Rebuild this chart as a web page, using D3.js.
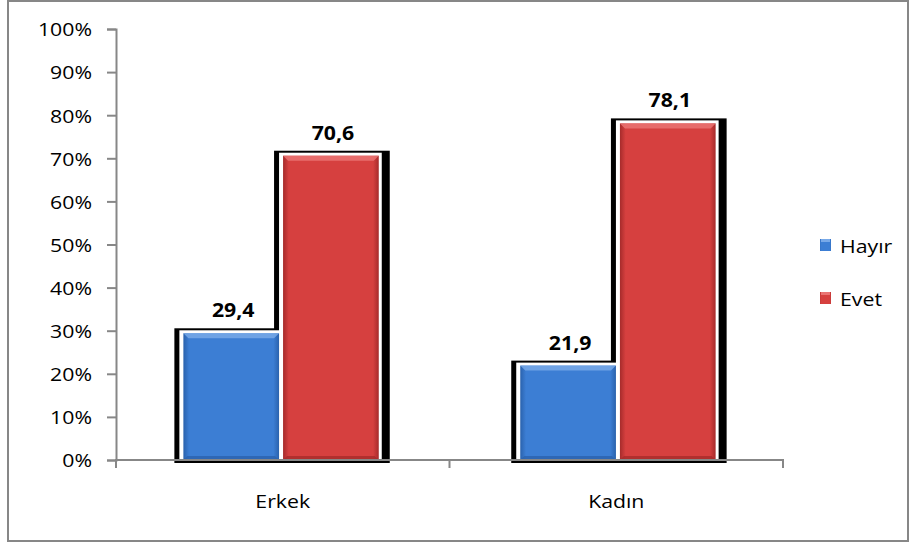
<!DOCTYPE html>
<html>
<head>
<meta charset="utf-8">
<script src="https://cdn.jsdelivr.net/npm/d3@7"></script>
<style>
  html, body { margin: 0; padding: 0; background: #ffffff; }
  svg { display: block; }
  text { font-family: "Open Sans", "DejaVu Sans", sans-serif; fill: #000; }
</style>
</head>
<body>
<svg id="chart" width="911" height="546"></svg>
<script>
// ---- data ----
const categories = ["Erkek", "Kadın"];
const seriesNames = ["Hayır", "Evet"];
const hayirValues = [29.4, 21.9];
const evetValues = [70.6, 78.1];
const valueLabels = [["29,4", "21,9"], ["70,6", "78,1"]];
const yTicks = [0, 10, 20, 30, 40, 50, 60, 70, 80, 90, 100];
const yTickLabels = ["0%", "10%", "20%", "30%", "40%", "50%", "60%", "70%", "80%", "90%", "100%"];

const seriesValues = [hayirValues, evetValues];
const colors = [
  { main: "#3c7ed4", edge: "#2a62ad", light: "#78a9e8" },
  { main: "#d6403f", edge: "#a62b2b", light: "#ea7473" }
];
const SX = 1.12; // horizontal text stretch
const FS = "19px";

const svg = d3.select("#chart");
const defs = svg.append("defs");
colors.forEach((c, i) => {
  const g = defs.append("linearGradient").attr("id", "grad" + i)
    .attr("x1", "0").attr("x2", "1").attr("y1", "0").attr("y2", "0");
  g.append("stop").attr("offset", "0").attr("stop-color", c.edge);
  g.append("stop").attr("offset", "0.06").attr("stop-color", c.main);
  g.append("stop").attr("offset", "0.94").attr("stop-color", c.main);
  g.append("stop").attr("offset", "1").attr("stop-color", c.edge);
});

// outer border
svg.append("rect").attr("x", 8).attr("y", 1).attr("width", 900).attr("height", 540)
  .attr("fill", "none").attr("stroke", "#878787").attr("stroke-width", 2);

const y = d3.scaleLinear().domain([0, 100]).range([460, 29]);
const x0 = d3.scaleBand().domain(categories).range([116, 783])
  .paddingInner(0.42).paddingOuter(0.2);
const x1 = d3.scaleBand().domain(seriesNames).range([0, x0.bandwidth()]).paddingInner(0.04);

// flatten bars
const bars = [];
seriesNames.forEach((s, si) => {
  categories.forEach((c, ci) => {
    bars.push({ s, si, c, ci, v: seriesValues[si][ci], label: valueLabels[si][ci] });
  });
});
const bx = d => x0(d.c) + x1(d.s);
const bw = x1.bandwidth();
const base = y(0);

// black frames
svg.append("g").selectAll("rect").data(bars).join("rect")
  .attr("x", d => bx(d) - 9).attr("y", d => y(d.v) - 5)
  .attr("width", bw + 20).attr("height", d => base - y(d.v) + 8)
  .attr("fill", "#000");
// white inner borders
svg.append("g").selectAll("rect").data(bars).join("rect")
  .attr("x", d => bx(d) - 4).attr("y", d => y(d.v) - 3)
  .attr("width", bw + 7).attr("height", d => base - y(d.v) + 3)
  .attr("fill", "#fff");
// bars
svg.append("g").selectAll("rect").data(bars).join("rect")
  .attr("x", d => bx(d)).attr("y", d => y(d.v))
  .attr("width", bw).attr("height", d => base - y(d.v))
  .attr("fill", d => "url(#grad" + d.si + ")");
// top bevel
svg.append("g").selectAll("path").data(bars).join("path")
  .attr("d", d => {
    const xa = bx(d), xb = bx(d) + bw, ya = y(d.v), k = 5;
    return `M${xa},${ya}L${xb},${ya}L${xb - k},${ya + k}L${xa + k},${ya + k}Z`;
  })
  .attr("fill", d => colors[d.si].light).attr("opacity", 0.85);
// bottom bevel
svg.append("g").selectAll("path").data(bars).join("path")
  .attr("d", d => {
    const xa = bx(d), xb = bx(d) + bw, yb = base, k = 4;
    return `M${xa},${yb}L${xb},${yb}L${xb - k},${yb - k}L${xa + k},${yb - k}Z`;
  })
  .attr("fill", d => colors[d.si].edge).attr("opacity", 0.8);

// value labels
svg.append("g").selectAll("g").data(bars).join("g")
  .attr("transform", d => `translate(${bx(d) + bw / 2 + 2},${y(d.v) - 16}) scale(${SX},1)`)
  .append("text").attr("text-anchor", "middle")
  .style("font-size", "19px").style("font-weight", "bold")
  .text(d => d.label);

// y axis
const yAxis = d3.axisLeft(y).tickValues(yTicks)
  .tickFormat((d, i) => yTickLabels[i]).tickSize(9).tickPadding(0);
const yg = svg.append("g").attr("transform", "translate(116,0)").call(yAxis);
yg.select(".domain").attr("stroke", "#878787").attr("stroke-width", 2);
yg.selectAll(".tick line").attr("stroke", "#878787").attr("stroke-width", 2);
yg.selectAll(".tick text")
  .attr("x", 0).attr("dy", "0.36em")
  .attr("transform", `translate(-24,0) scale(${SX},1)`)
  .style("font-size", FS).style("font-family", "'Open Sans', sans-serif")
  .attr("fill", "#000");

// x axis
const r = x0.range();
const boundaries = d3.range(categories.length + 1).map(i => r[0] + i * (r[1] - r[0]) / categories.length);
const xg = svg.append("g");
xg.append("line").attr("x1", r[0] - 1).attr("x2", r[1] + 1)
  .attr("y1", base).attr("y2", base).attr("stroke", "#878787").attr("stroke-width", 2);
xg.selectAll("line.tk").data(boundaries).join("line").attr("class", "tk")
  .attr("x1", d => d).attr("x2", d => d).attr("y1", base).attr("y2", base + 8)
  .attr("stroke", "#878787").attr("stroke-width", 2);
xg.selectAll("g.lbl").data(categories).join("g").attr("class", "lbl")
  .attr("transform", (d, i) => `translate(${(boundaries[i] + boundaries[i + 1]) / 2},508) scale(${SX},1)`)
  .append("text").attr("text-anchor", "middle").style("font-size", FS)
  .text(d => d);

// legend
const legend = svg.append("g");
seriesNames.forEach((s, i) => {
  const ly = 246 + i * 53;
  legend.append("rect").attr("x", 820).attr("y", ly - 7).attr("width", 11).attr("height", 12)
    .attr("fill", "url(#grad" + i + ")");
  legend.append("rect").attr("x", 821).attr("y", ly - 7).attr("width", 9).attr("height", 3)
    .attr("fill", colors[i].light);
  legend.append("g").attr("transform", `translate(840,${ly + 7}) scale(${SX},1)`)
    .append("text").style("font-size", FS).text(s);
});
</script>
</body>
</html>
